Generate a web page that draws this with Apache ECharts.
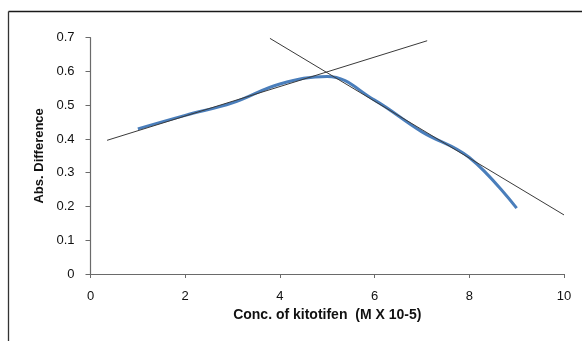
<!DOCTYPE html>
<html>
<head>
<meta charset="utf-8">
<script src="https://cdn.jsdelivr.net/npm/echarts@6/dist/echarts.min.js"></script>
<style>
html,body{margin:0;padding:0;background:#fff;}
#c{width:583px;height:341px;}
</style>
</head>
<body>
<div id="c"></div>
<script>
// Data
const concX = [1, 2, 3, 4, 5, 6, 7, 8, 9];
const absDiff = [0.43, 0.47, 0.507, 0.563, 0.585, 0.515, 0.421, 0.345, 0.195];
const trendRiseX = [0.35, 7.11];
const trendRiseY = [0.396, 0.691];
const trendFallX = [3.79, 10.0];
const trendFallY = [0.698, 0.175];
const xTicks = [0, 2, 4, 6, 8, 10];
const yTicks = [0, 0.1, 0.2, 0.3, 0.4, 0.5, 0.6, 0.7];

const zip = (a, b) => a.map((v, i) => [v, b[i]]);
const font = 'Liberation Sans, Arial, sans-serif';
const chart = echarts.init(document.getElementById('c'), null, {renderer: 'canvas'});
chart.setOption({
  animation: false,
  backgroundColor: '#fff',
  grid: {left: 90.5, right: 19, top: 37.7, bottom: 67, containLabel: false},
  xAxis: {
    type: 'value', min: 0, max: 10, interval: 2,
    name: 'Conc. of kitotifen  (M X 10-5)',
    nameLocation: 'middle', nameGap: 34,
    nameTextStyle: {fontFamily: font, fontSize: 14, fontWeight: 'bold', color: '#111'},
    axisLine: {show: true, lineStyle: {color: '#6a6a6a', width: 1.2}},
    axisTick: {show: true, inside: false, length: 4, lineStyle: {color: '#6a6a6a'}},
    axisLabel: {fontFamily: font, fontSize: 13, color: '#111', margin: 16,
      formatter: v => xTicks.includes(v) ? String(v) : ''},
    splitLine: {show: false}
  },
  yAxis: {
    type: 'value', min: 0, max: 0.7, interval: 0.1,
    name: 'Abs. Difference',
    nameLocation: 'middle', nameGap: 43, nameRotate: 90,
    nameTextStyle: {fontFamily: font, fontSize: 13, fontWeight: 'bold', color: '#111'},
    axisLine: {show: true, lineStyle: {color: '#6a6a6a', width: 1.2}},
    axisTick: {show: true, inside: false, length: 5, lineStyle: {color: '#6a6a6a'}},
    axisLabel: {fontFamily: font, fontSize: 13, color: '#111', margin: 16,
      formatter: v => {
        const t = yTicks.find(y => Math.abs(y - v) < 1e-6);
        return t === undefined ? '' : (t === 0 ? '0' : t.toFixed(1));
      }},
    splitLine: {show: false}
  },
  series: [
    {
      type: 'line', data: zip(concX, absDiff), smooth: 0.4,
      showSymbol: false, symbol: 'none',
      lineStyle: {color: '#4a7ebb', width: 3}, z: 2
    },
    {
      type: 'line', data: zip(trendRiseX, trendRiseY),
      showSymbol: false, symbol: 'none',
      lineStyle: {color: '#3a3a3a', width: 1}, z: 3
    },
    {
      type: 'line', data: zip(trendFallX, trendFallY),
      showSymbol: false, symbol: 'none',
      lineStyle: {color: '#3a3a3a', width: 1}, z: 3
    }
  ],
  graphic: [
    {type: 'line', shape: {x1: 8.5, y1: 11.5, x2: 582, y2: 11.5}, style: {stroke: '#1a1a1a', lineWidth: 1.3}},
    {type: 'line', shape: {x1: 8.5, y1: 11.5, x2: 8.5, y2: 341}, style: {stroke: '#333', lineWidth: 1.3}}
  ]
});
</script>
</body>
</html>
